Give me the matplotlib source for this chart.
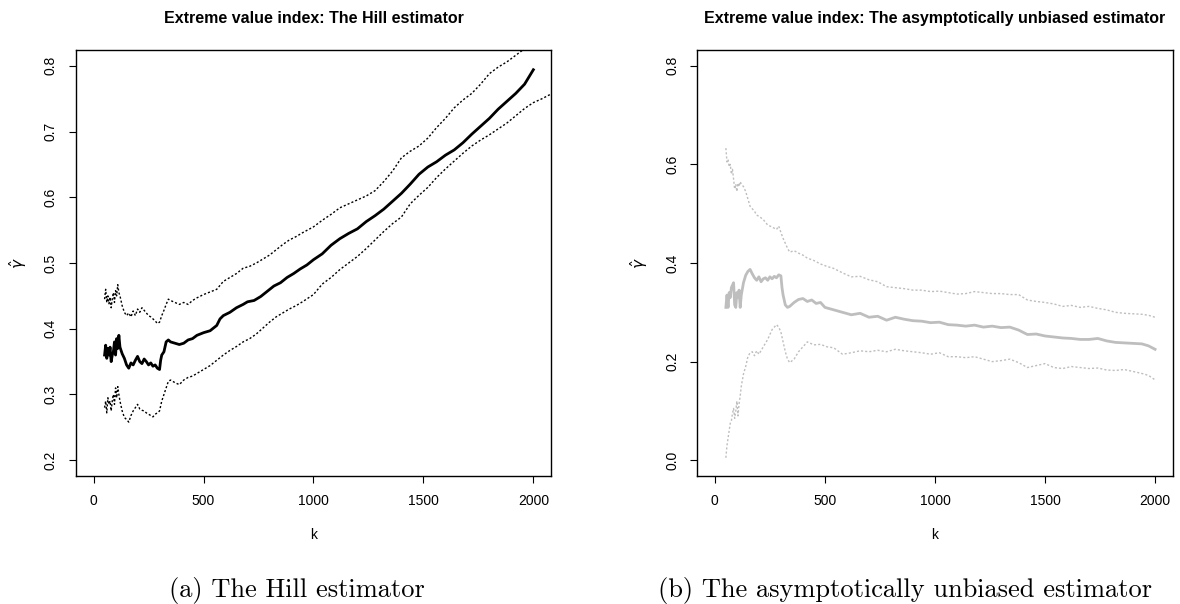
import matplotlib.pyplot as plt

# Hill estimator (left panel)
hill_k = [50, 55, 60, 65, 70, 75, 80, 85, 90, 95, 100, 105, 110, 115, 120, 130, 140, 150, 160, 170,
          180, 190, 200, 210, 220, 230, 240, 250, 260, 270, 280, 290, 300, 305, 310, 320, 330, 340, 350,
          370, 390, 410, 430, 450, 470, 500, 530, 560, 575, 590, 620, 650, 680, 700, 730, 760, 790, 820,
          850, 880, 910, 940, 970, 1000, 1040, 1080, 1120, 1160, 1200, 1240, 1280, 1320, 1360, 1400,
          1440, 1480, 1520, 1560, 1600, 1640, 1680, 1720, 1760, 1800, 1840, 1880, 1920, 1960, 2000]
hill_est = [0.36, 0.375, 0.355, 0.37, 0.36, 0.372, 0.35, 0.36, 0.365, 0.38, 0.36, 0.385, 0.37, 0.39, 0.372,
            0.362, 0.355, 0.345, 0.34, 0.348, 0.345, 0.352, 0.358, 0.35, 0.347, 0.354, 0.35, 0.345, 0.348,
            0.343, 0.345, 0.34, 0.338, 0.352, 0.36, 0.365, 0.38, 0.383, 0.38, 0.378, 0.376, 0.378, 0.383,
            0.385, 0.39, 0.394, 0.397, 0.405, 0.415, 0.42, 0.425, 0.432, 0.437, 0.441, 0.443, 0.449, 0.457,
            0.465, 0.47, 0.478, 0.484, 0.491, 0.497, 0.505, 0.514, 0.527, 0.537, 0.545, 0.552, 0.563, 0.572,
            0.582, 0.594, 0.606, 0.62, 0.635, 0.646, 0.654, 0.664, 0.672, 0.683, 0.696, 0.708, 0.72, 0.734,
            0.746, 0.758, 0.772, 0.794]

band_k = [50, 55, 60, 65, 70, 75, 80, 85, 90, 95, 100, 105, 110, 115, 120, 130, 140, 150, 160, 170,
          180, 190, 200, 210, 220, 230, 240, 250, 260, 270, 280, 290, 300, 310, 320, 330, 340, 350,
          370, 390, 410, 430, 450, 470, 500, 530, 560, 590, 620, 650, 680, 710, 740, 770, 800, 830,
          860, 890, 920, 950, 1000, 1040, 1080, 1120, 1160, 1200, 1240, 1280, 1320, 1360, 1400, 1440,
          1480, 1520, 1560, 1600, 1640, 1680, 1720, 1760, 1800, 1840, 1880, 1920, 1960, 2000, 2040, 2080]
hill_hi = [0.445, 0.46, 0.44, 0.45, 0.438, 0.448, 0.432, 0.445, 0.455, 0.44, 0.458, 0.45, 0.467, 0.455,
           0.45, 0.435, 0.425, 0.42, 0.424, 0.418, 0.427, 0.42, 0.43, 0.425, 0.432, 0.428, 0.424, 0.42,
           0.418, 0.415, 0.412, 0.408, 0.41, 0.42, 0.428, 0.437, 0.445, 0.443, 0.44, 0.437, 0.44, 0.437,
           0.443, 0.447, 0.452, 0.456, 0.46, 0.472, 0.478, 0.484, 0.492, 0.495, 0.5, 0.506, 0.512, 0.52,
           0.528, 0.535, 0.54, 0.546, 0.555, 0.565, 0.574, 0.584, 0.59, 0.596, 0.602, 0.61, 0.624, 0.64,
           0.66, 0.67, 0.678, 0.69, 0.706, 0.72, 0.736, 0.748, 0.758, 0.772, 0.788, 0.798, 0.806, 0.816,
           0.826, 0.838, 0.85, 0.86]
hill_lo = [0.28, 0.29, 0.272, 0.295, 0.285, 0.29, 0.275, 0.29, 0.3, 0.285, 0.31, 0.295, 0.312, 0.3, 0.29,
           0.275, 0.265, 0.262, 0.258, 0.268, 0.275, 0.28, 0.285, 0.278, 0.276, 0.275, 0.272, 0.27, 0.268,
           0.266, 0.27, 0.272, 0.275, 0.29, 0.3, 0.31, 0.32, 0.322, 0.318, 0.315, 0.322, 0.326, 0.328,
           0.332, 0.338, 0.344, 0.352, 0.36, 0.367, 0.373, 0.38, 0.385, 0.392, 0.401, 0.41, 0.418, 0.424,
           0.43, 0.435, 0.441, 0.452, 0.468, 0.478, 0.49, 0.5, 0.51, 0.522, 0.535, 0.548, 0.56, 0.57, 0.59,
           0.603, 0.615, 0.63, 0.643, 0.655, 0.667, 0.678, 0.687, 0.695, 0.704, 0.713, 0.724, 0.735, 0.744,
           0.75, 0.757]

# asymptotically unbiased estimator (right panel)
aub_k = [50, 55, 60, 65, 70, 75, 80, 85, 90, 95, 100, 105, 110, 115, 120, 130, 140, 150, 160, 170,
         180, 190, 200, 210, 220, 230, 240, 250, 260, 270, 280, 290, 300, 305, 310, 320, 330, 340, 360,
         380, 400, 420, 440, 460, 480, 500, 540, 580, 620, 660, 700, 740, 780, 820, 860, 900, 940, 980,
         1020, 1060, 1100, 1140, 1180, 1220, 1260, 1300, 1340, 1380, 1420, 1460, 1500, 1540, 1580, 1620,
         1660, 1700, 1740, 1780, 1820, 1860, 1900, 1940, 1970, 2000]
aub_est = [0.31, 0.335, 0.31, 0.34, 0.33, 0.35, 0.355, 0.36, 0.315, 0.31, 0.34, 0.33, 0.345, 0.31, 0.335,
           0.36, 0.375, 0.383, 0.387, 0.378, 0.37, 0.365, 0.372, 0.362, 0.368, 0.37, 0.365, 0.372, 0.368,
           0.373, 0.37, 0.376, 0.374, 0.35, 0.335, 0.315, 0.31, 0.312, 0.32, 0.326, 0.328, 0.322, 0.325,
           0.318, 0.32, 0.31, 0.305, 0.3, 0.295, 0.298, 0.29, 0.292, 0.284, 0.29, 0.286, 0.283, 0.282,
           0.279, 0.28, 0.275, 0.274, 0.272, 0.274, 0.27, 0.272, 0.269, 0.27, 0.264, 0.255, 0.256, 0.252,
           0.25, 0.248, 0.247, 0.245, 0.245, 0.247, 0.242, 0.239, 0.238, 0.237, 0.236, 0.232, 0.225]

aub_band_k = [50, 55, 60, 65, 70, 75, 80, 85, 90, 95, 100, 105, 110, 115, 120, 130, 140, 150, 160, 170,
              180, 190, 200, 220, 240, 260, 280, 290, 300, 310, 320, 330, 340, 360, 380, 400, 420, 450,
              480, 510, 540, 580, 620, 660, 700, 740, 780, 820, 860, 900, 940, 980, 1020, 1060, 1100,
              1140, 1180, 1220, 1260, 1300, 1340, 1380, 1420, 1460, 1500, 1540, 1580, 1620, 1660, 1700,
              1740, 1780, 1820, 1860, 1900, 1940, 1970, 2000]
aub_hi = [0.633, 0.605, 0.61, 0.595, 0.6, 0.58, 0.59, 0.57, 0.55, 0.56, 0.545, 0.562, 0.555, 0.565, 0.56,
          0.555, 0.545, 0.53, 0.515, 0.51, 0.505, 0.497, 0.495, 0.488, 0.477, 0.473, 0.468, 0.475, 0.462,
          0.45, 0.44, 0.43, 0.422, 0.425, 0.42, 0.416, 0.41, 0.405, 0.398, 0.393, 0.389, 0.38, 0.372,
          0.373, 0.366, 0.362, 0.352, 0.35, 0.348, 0.345, 0.345, 0.342, 0.343, 0.34, 0.337, 0.338, 0.342,
          0.34, 0.338, 0.338, 0.336, 0.336, 0.325, 0.322, 0.32, 0.317, 0.312, 0.314, 0.31, 0.312, 0.308,
          0.305, 0.3, 0.298, 0.297, 0.296, 0.294, 0.29]
aub_lo = [0.005, 0.03, 0.045, 0.06, 0.075, 0.08, 0.095, 0.105, 0.085, 0.1, 0.12, 0.09, 0.115, 0.13, 0.15,
          0.175, 0.19, 0.21, 0.218, 0.22, 0.212, 0.222, 0.215, 0.23, 0.245, 0.265, 0.275, 0.27, 0.26,
          0.24, 0.22, 0.205, 0.198, 0.205, 0.22, 0.23, 0.24, 0.234, 0.235, 0.23, 0.228, 0.215, 0.218,
          0.222, 0.22, 0.223, 0.22, 0.225, 0.222, 0.22, 0.218, 0.215, 0.218, 0.21, 0.21, 0.208, 0.21,
          0.205, 0.2, 0.202, 0.205, 0.198, 0.188, 0.192, 0.196, 0.188, 0.186, 0.19, 0.188, 0.186, 0.187,
          0.183, 0.182, 0.184, 0.18, 0.176, 0.172, 0.163]

titles = ["Extreme value index: The Hill estimator",
          "Extreme value index: The asymptotically unbiased estimator"]
captions = ["(a) The Hill estimator", "(b) The asymptotically unbiased estimator"]

plt.rcParams['font.family'] = ['Liberation Sans', 'DejaVu Sans']
dots = (0, (1.5, 1.5))


def setAxis(ax, title, ylim, yticks):
    ax.set_xlim(-80, 2080)
    ax.set_ylim(ylim)
    ax.set_xticks([0, 500, 1000, 1500, 2000])
    ax.set_yticks(yticks)
    ax.set_yticklabels([f"{v:.1f}" for v in yticks], rotation=90, va='center')
    ax.tick_params(direction='out', length=5, width=0.8, labelsize=10, pad=8,
                   top=False, right=False)
    for s in ax.spines.values():
        s.set_linewidth(1.0)
    ax.set_title(title, fontsize=11.5, fontweight='bold', pad=19.5)
    ax.set_xlabel("k", fontsize=10, labelpad=14)
    ax.set_ylabel(r"$\hat{\gamma}$", fontsize=11, labelpad=11)


fig = plt.figure(figsize=(11.8, 6.04), dpi=100)
ax1 = fig.add_axes([0.0644, 0.2119, 0.4025, 0.7053])
ax2 = fig.add_axes([0.5909, 0.2119, 0.4029, 0.7053])

ax1.plot(hill_k, hill_est, color='black', lw=2)
ax1.plot(band_k, hill_hi, color='black', lw=1, linestyle=dots)
ax1.plot(band_k, hill_lo, color='black', lw=1, linestyle=dots)
setAxis(ax1, titles[0], (0.176, 0.824), [0.2, 0.3, 0.4, 0.5, 0.6, 0.7, 0.8])

ax2.plot(aub_k, aub_est, color='#bebebe', lw=2)
ax2.plot(aub_band_k, aub_hi, color='#bebebe', lw=1, linestyle=dots)
ax2.plot(aub_band_k, aub_lo, color='#bebebe', lw=1, linestyle=dots)
setAxis(ax2, titles[1], (-0.032, 0.832), [0.0, 0.2, 0.4, 0.6, 0.8])

fig.text(296.5 / 1180, 1 - 597 / 604, captions[0], family='cmr10', fontsize=19,
         ha='center', va='baseline')
fig.text(904.5 / 1180, 1 - 597 / 604, captions[1], family='cmr10', fontsize=19,
         ha='center', va='baseline')

fig.savefig("out.png", dpi=100)
